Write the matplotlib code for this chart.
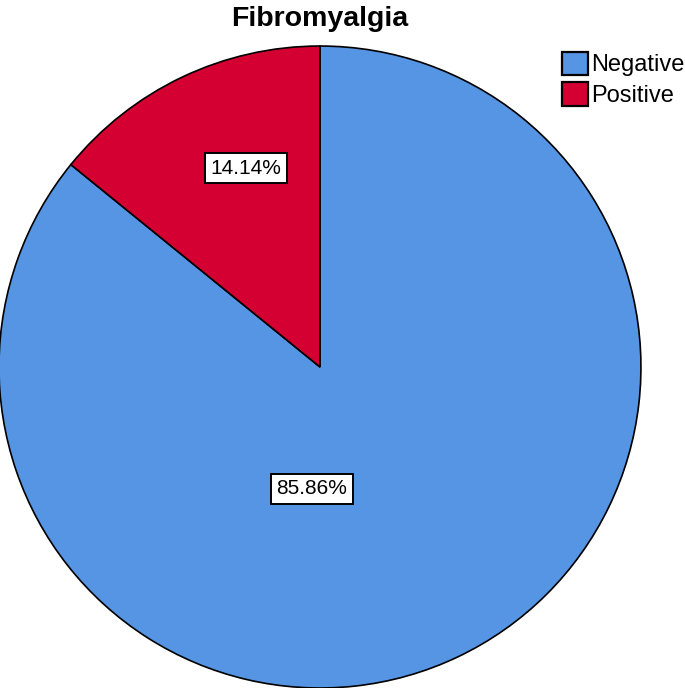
import matplotlib.pyplot as plt

plt.rcParams['font.family'] = ['Liberation Sans', 'DejaVu Sans']

labels = ["Negative", "Positive"]
values = [85.86, 14.14]
colors = ["#5595E3", "#D50032"]

fig = plt.figure(figsize=(6.85, 6.88), dpi=100)
ax = fig.add_axes([-0.0015, 0.0, 0.9372, 0.9331])

wedges, texts, autotexts = ax.pie(values, colors=colors, startangle=90, counterclock=False,
                                  autopct="%.2f%%", pctdistance=0.65,
                                  wedgeprops=dict(edgecolor="black", linewidth=1.2))
ax.set_xlim(-1, 1)
ax.set_ylim(-1, 1)
ax.set_aspect("equal")

# SPSS puts the labels a bit off the wedge middles
label_pos = [(-0.025, -0.38), (-0.23, 0.62)]
for t, pos in zip(autotexts, label_pos):
    t.set_position(pos)
    t.set_fontsize(15)
    t.set_ha("center")
    t.set_va("center")
    t.set_bbox(dict(facecolor="white", edgecolor="black", linewidth=1.4, boxstyle="square,pad=0.25"))

fig.text(0.467, 0.972, "Fibromyalgia", ha="center", va="center", fontsize=20.5, fontweight="bold")

leg = fig.legend(wedges, labels, loc="upper left", bbox_to_anchor=(0.8204, 0.925), frameon=False,
                 fontsize=17, handlelength=1.1, handleheight=1.15, handletextpad=0.15,
                 labelspacing=0.25, borderpad=0, borderaxespad=0)
for h in leg.legend_handles:
    h.set_linewidth(1.6)

plt.savefig("out.png", dpi=100)
